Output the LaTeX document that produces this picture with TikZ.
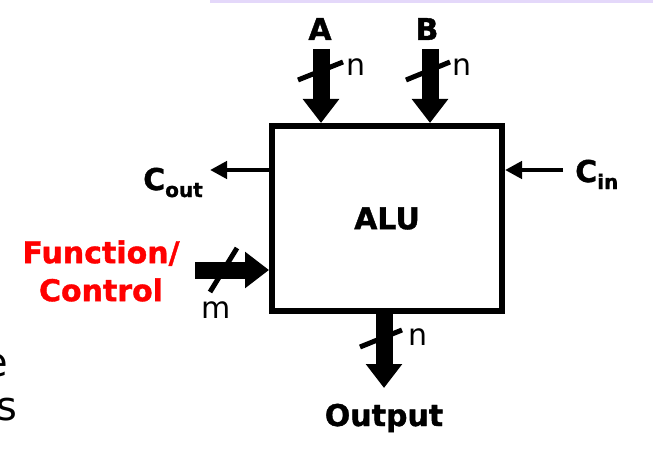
\documentclass[tikz,border=0pt]{standalone}
\usepackage{fontspec}
\setmainfont[BoldFeatures={FakeBold=1.2}]{DejaVu Sans}
\usetikzlibrary{arrows.meta}
\definecolor{slidelilac}{RGB}{228,216,250}
\begin{document}
\begin{tikzpicture}[x=1pt,y=-1pt,
    bus/.style={line width=17pt,-{Triangle[length=24pt,width=35pt]}},
    wire/.style={line width=4.5pt,-{Triangle[length=17pt,width=17pt]}},
    slash/.style={line width=5pt},
    lbl/.style={inner sep=0pt,font=\fontsize{30}{38}\selectfont\bfseries},
    busw/.style={inner sep=0pt,anchor=base,font=\fontsize{30}{36}\selectfont},
  ]
  \clip (0,0) rectangle (653,468);%
  \fill[slidelilac] (210,0) rectangle (653,3);%

  % cut off slide text at the left edge
  \node[inner sep=0pt,anchor=base east,font=\fontsize{40}{48}\selectfont] (rest1) at (8,376) {e};%
  \node[inner sep=0pt,anchor=base east,font=\fontsize{40}{48}\selectfont] (rest2) at (18,420) {s};%

  \node[draw,line width=6pt,minimum width=230pt,minimum height=185pt,lbl] (alu) at (387,218.5) {ALU};%

  \coordinate (a-tail) at (321,49);%
  \coordinate (b-tail) at (430,49);%
  \coordinate (out-tip) at (384,388);%
  \coordinate (fn-tail) at (195,270);%
  \coordinate (cout-tip) at (210,170);%
  \coordinate (cin-tail) at (563,170);%

  \draw[bus] (a-tail) -- (a-tail |- alu.north);%
  \draw[bus] (b-tail) -- (b-tail |- alu.north);%
  \draw[bus] (out-tip |- alu.south) -- (out-tip);%
  \draw[bus] (fn-tail) -- (fn-tail -| alu.west);%
  \draw[wire] (cout-tip -| alu.west) -- (cout-tip);%
  \draw[wire] (cin-tail) -- (cin-tail -| alu.east);%

  % bus width marks
  \draw[slash] ([shift={(-23,31)}]a-tail) -- ++(45,-18);%
  \draw[slash] ([shift={(-24,31)}]b-tail) -- ++(44,-18);%
  \draw[slash] ([shift={(-24,-41)}]out-tip) -- ++(42,-17);%
  \draw[slash] ([shift={(15,22)}]fn-tail) -- ++(27,-44);%

  \node[busw] (a-n) at (356,76) {n};%
  \node[busw] (b-n) at (462,76) {n};%
  \node[busw] (out-n) at (418,345) {n};%
  \node[busw] (fn-m) at (216,318) {m};%

  \node[lbl,anchor=base] (a-lbl) at (320,40) {A};%
  \node[lbl,anchor=base] (b-lbl) at (427,40) {B};%
  \node[lbl,anchor=base] (out-lbl) at (384,426) {Output};%
  \node[lbl,anchor=base west] (cout-lbl) at (143,190) {C\raisebox{-7pt}{\fontsize{20}{20}\selectfont out}};%
  \node[lbl,anchor=base west] (cin-lbl) at (575,182) {C\raisebox{-7pt}{\fontsize{20}{20}\selectfont in}};%
  \node[lbl,red,align=center] (fn-lbl) at (101,271) {Function/\\Control};%
\end{tikzpicture}
\end{document}
